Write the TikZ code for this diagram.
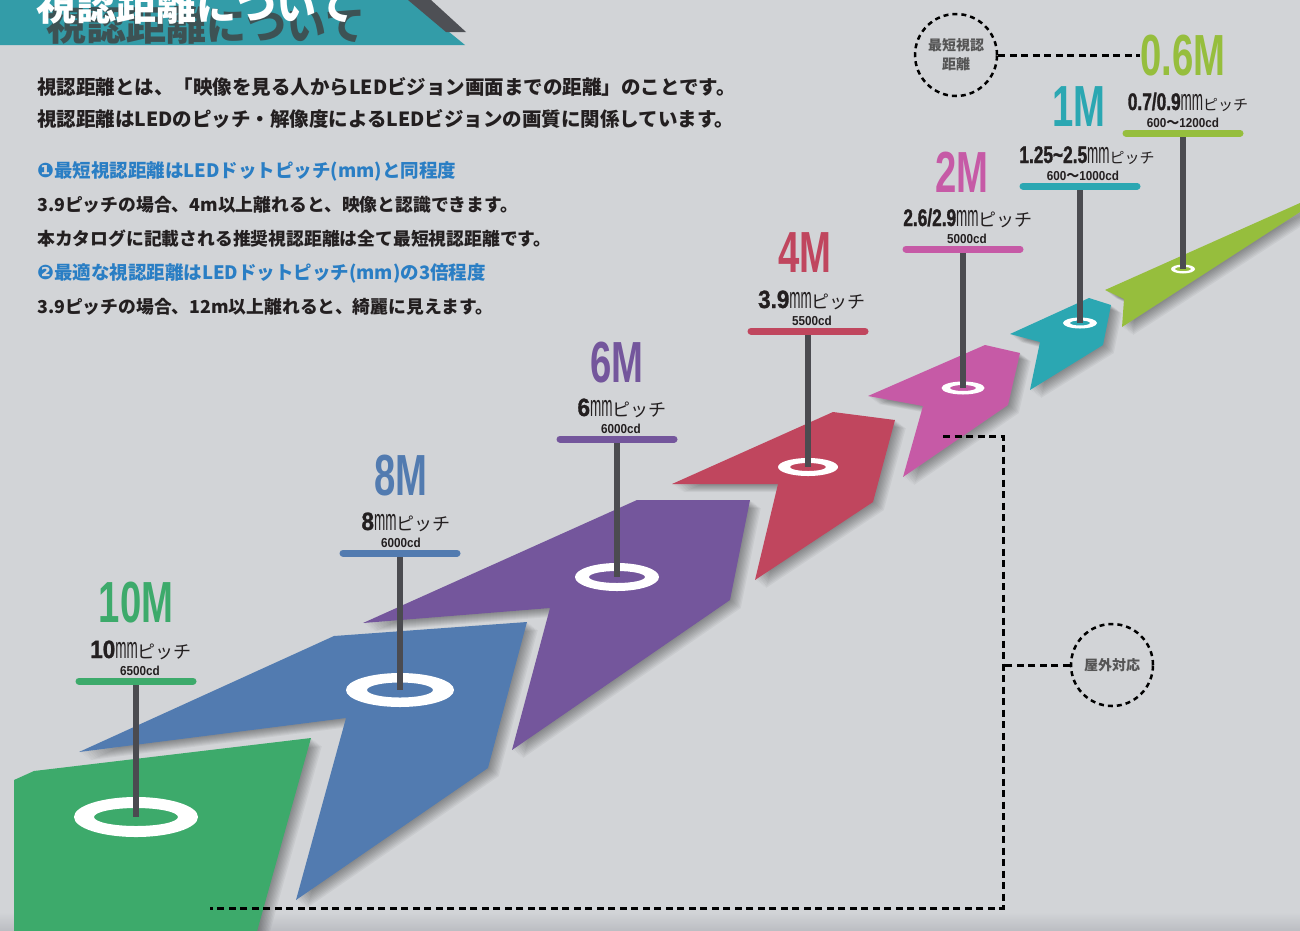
\documentclass[tikz,border=0pt]{standalone}
\usepackage{fontspec}
\setmainfont{Noto Sans CJK JP}
\newfontfamily\numf{Liberation Sans}[FakeStretch=0.9]
\newfontfamily\numb{Liberation Sans Bold}[FakeStretch=0.9, FakeBold=1.2]
\newfontfamily\numc{Liberation Sans Bold}[FakeStretch=0.72, FakeBold=1.2]
\newfontfamily\bigf{Liberation Sans}[FakeStretch=0.66]
\newfontfamily\mmf{Liberation Sans}[FakeStretch=0.45]
\newfontfamily\djv{DejaVu Sans}
\usetikzlibrary{calc}
\definecolor{bg}{HTML}{D2D4D7}
\definecolor{bgdark}{HTML}{BCBEC3}
\definecolor{bannerc}{HTML}{339CA8}
\definecolor{bannerdark}{HTML}{4E5055}
\definecolor{cgreen}{HTML}{3DAA6B}
\definecolor{cblue}{HTML}{527BB0}
\definecolor{cpurple}{HTML}{74569C}
\definecolor{cred}{HTML}{C0465E}
\definecolor{cpink}{HTML}{C65AA6}
\definecolor{cteal}{HTML}{2BA7B2}
\definecolor{clime}{HTML}{96BE3D}
\definecolor{polec}{HTML}{4B4B50}
\definecolor{txt}{HTML}{231F20}
\definecolor{btxt}{HTML}{2A7EC4}
\definecolor{ctxt}{HTML}{555555}
\newcommand\pn[2]{{\numb\fontsize{25}{25}\selectfont #1}{\mmf\fontsize{30}{30}\selectfont mm}{\fontsize{#2}{#2}\selectfont ピッチ}}
\newcommand\pnc[2]{{\numc\fontsize{24}{24}\selectfont #1}{\mmf\fontsize{30}{30}\selectfont mm}{\fontsize{#2}{#2}\selectfont ピッチ}}
\newcommand\cdn[1]{{\numf #1}}
\tikzset{
  bigM/.style={font=\bigf\bfseries\fontsize{58}{58}\selectfont, inner sep=0pt, anchor=base},
  pitchtxt/.style={inner sep=0pt, anchor=base, text=txt},
  cdtxt/.style={font=\bfseries\fontsize{13}{13}\selectfont, inner sep=0pt, anchor=base, text=txt},
  barline/.style={line width=7pt, line cap=round},
  pole/.style={line width=6pt, draw=polec},
  dline/.style={draw=black, line width=3pt, dash pattern=on 7pt off 4.5pt},
  dcirc/.style={circle, draw=black, line width=2.5pt, dash pattern=on 5pt off 4pt, minimum size=82pt, inner sep=0pt, align=center, text=ctxt, font=\bfseries\fontsize{14}{19}\selectfont},
  ringc/.style={fill=white, even odd rule},
  para/.style={anchor=base west, inner sep=0pt, text=txt, font=\bfseries\fontsize{19.5}{20}\selectfont},
  parab/.style={anchor=base west, inner sep=0pt, text=btxt, font=\bfseries\fontsize{18.5}{20}\selectfont},
  paras/.style={anchor=base west, inner sep=0pt, text=txt, font=\bfseries\fontsize{17.8}{20}\selectfont},
  sgreen/.style={insert path={(14,780) -- (34,771) -- (311,738) -- (256,935) -- (14,935) -- cycle}},
  sblue/.style={insert path={(79,752) -- (334,636) -- (527,622) -- (488,768) -- (296,900) -- (346,718) -- cycle}},
  spurple/.style={insert path={(363,623) -- (637,500) -- (750,500) -- (730,600) -- (512,750) -- (550,608) -- cycle}},
  sred/.style={insert path={(672,484) -- (833,412) -- (895,420) -- (873,502) -- (755,580) -- (778,484) -- cycle}},
  spink/.style={insert path={(868,396) -- (985,345) -- (1020,353) -- (1008,405) -- (903,477) -- (923,406) -- cycle}},
  steal/.style={insert path={(1010,334) -- (1089,298) -- (1111,305) -- (1103,345) -- (1030,390) -- (1040,342) -- cycle}},
  slime/.style={insert path={(1105,290) -- (1300,203) -- (1300,212) -- (1122,327) -- (1124,299) -- cycle}},
}
\begin{document}
\begin{tikzpicture}[x=1pt,y=-1pt]
\path[use as bounding box] (0,0) rectangle (1300,930);
\clip (0,0) rectangle (1300,930);
\fill[bg] (0,0) rectangle (1300,930);
\shade[top color=bg, bottom color=bgdark] (0,912) rectangle (1300,930);

% banner
\fill[bannerc] (0,0) -- (410,0) -- (465,45) -- (0,45) -- cycle;
\fill[bannerdark] (408,0) -- (431,0) -- (466,32) -- (446,32) -- cycle;
\node[inner sep=0pt, text=black!75, opacity=0.8, font=\bfseries\fontsize{40}{40}\selectfont] (tshadow) at (206,25) {視認距離について};
\node[inner sep=0pt, text=white, font=\bfseries\fontsize{40}{40}\selectfont] (title) at (196,5) {視認距離について};

% paragraph
\node[para] (l1) at (37,94) {視認距離とは、「映像を見る人からLEDビジョン画面までの距離」のことです。};
\node[para] (l2) at (37,126) {視認距離はLEDのピッチ・解像度によるLEDビジョンの画質に関係しています。};
\node[parab] (b1) at (37,177) {{\djv\fontsize{20}{20}\selectfont ❶}最短視認距離はLEDドットピッチ(mm)と同程度};
\node[paras] (l3) at (37,211) {3.9ピッチの場合、4m以上離れると、映像と認識できます。};
\node[paras] (l4) at (37,245) {本カタログに記載される推奨視認距離は全て最短視認距離です。};
\node[parab] (b2) at (37,279) {{\djv\fontsize{20}{20}\selectfont ❷}最適な視認距離はLEDドットピッチ(mm)の3倍程度};
\node[paras] (l5) at (37,313) {3.9ピッチの場合、12m以上離れると、綺麗に見えます。};

% shadows of the steps
\foreach \s in {slime,steal,spink,sred,spurple,sblue,sgreen}{
  \foreach \k in {1,...,9}{
    \fill[black, opacity=0.045, shift={(1.2*\k,0.9*\k)}, \s];
  }
}
% steps
\fill[clime, slime];
\fill[cteal, steal];
\fill[cpink, spink];
\fill[cred, sred];
\fill[cpurple, spurple];
\fill[cblue, sblue];
\fill[cgreen, sgreen];

% ring centres and bar centres
\coordinate (r10) at (136,817);  \coordinate (b10) at (136,681);
\coordinate (r8) at (400,690);   \coordinate (b8) at (400,553);
\coordinate (r6) at (617,577);   \coordinate (b6) at (617,439);
\coordinate (r4) at (808,467);   \coordinate (b4) at (808,331);
\coordinate (r2) at (963,388);   \coordinate (b2c) at (963,249);
\coordinate (r1) at (1080,323);  \coordinate (b1c) at (1080,186);
\coordinate (r06) at (1183,269); \coordinate (b06) at (1183,133);

% rings
\fill[ringc] (r10) ellipse [x radius=62, y radius=20] (r10) ellipse [x radius=42, y radius=9];
\fill[ringc] (r8) ellipse [x radius=54, y radius=17] (r8) ellipse [x radius=33, y radius=7.5];
\fill[ringc] (r6) ellipse [x radius=42, y radius=14] (r6) ellipse [x radius=28, y radius=6];
\fill[ringc] (r4) ellipse [x radius=30, y radius=9] (r4) ellipse [x radius=18, y radius=4];
\fill[ringc] (r2) ellipse [x radius=21.5, y radius=6.5] (r2) ellipse [x radius=13, y radius=3];
\fill[ringc] (r1) ellipse [x radius=17, y radius=5.5] (r1) ellipse [x radius=10, y radius=2.5];
\fill[ringc] (r06) ellipse [x radius=12, y radius=4.5] (r06) ellipse [x radius=8, y radius=2.2];

% poles
\foreach \b/\r in {b10/r10,b8/r8,b6/r6,b4/r4,b2c/r2,b1c/r1,b06/r06}{
  \draw[pole] (\b) -- (\r);
}
% bars
\foreach \b/\c in {b10/cgreen,b8/cblue,b6/cpurple,b4/cred,b2c/cpink,b1c/cteal,b06/clime}{
  \draw[barline, draw=\c] ($(\b)+(-57,0)$) -- ($(\b)+(57,0)$);
}

% labels
\node[bigM, text=cgreen] (m10) at (136,622) {10M};
\node[pitchtxt] (p10) at (141,658) {\pn{10}{18}};
\node[cdtxt] (c10) at (140,675) {\cdn{6500cd}};

\node[bigM, text=cblue] (m8) at (401,495) {8M};
\node[pitchtxt] (p8) at (406,530) {\pn{8}{18}};
\node[cdtxt] (c8) at (401,547) {\cdn{6000cd}};

\node[bigM, text=cpurple] (m6) at (617,382) {6M};
\node[pitchtxt] (p6) at (622,416) {\pn{6}{18}};
\node[cdtxt] (c6) at (621,433) {\cdn{6000cd}};

\node[bigM, text=cred] (m4) at (805,272) {4M};
\node[pitchtxt] (p4) at (812,308) {\pn{3.9}{18}};
\node[cdtxt] (c4) at (812,325) {\cdn{5500cd}};

\node[bigM, text=cpink] (m2) at (962,192) {2M};
\node[pitchtxt] (p2) at (968,226) {\pnc{2.6/2.9}{18}};
\node[cdtxt] (c2) at (967,243) {\cdn{5000cd}};

\node[bigM, text=cteal] (m1) at (1079,126) {1M};
\node[pitchtxt] (p1) at (1087,163) {\pnc{1.25\textasciitilde2.5}{15}};
\node[cdtxt] (c1) at (1083,180) {\cdn{600}〜\cdn{1000cd}};

\node[bigM, text=clime] (m06) at (1183,75) {0.6M};
\node[pitchtxt] (p06) at (1188,110) {\pnc{0.7/0.9}{15}};
\node[cdtxt] (c06) at (1183,127) {\cdn{600}〜\cdn{1200cd}};

% dotted callouts
\node[dcirc] (short) at (956,55) {最短視認\\距離};
\draw[dline] (short.east) -- (m06.west |- short.east);

\node[dcirc] (outdoor) at (1112,665) {屋外対応};
\coordinate (bt) at (943,436);
\coordinate (bc) at (1003,436);
\coordinate (bb) at (1003,908);
\coordinate (bl) at (210,908);
\draw[dline] (bt) -- (bc) -- (bb) -- (bl);
\draw[dline] (outdoor.west) -- (outdoor.west -| bc);
\end{tikzpicture}
\end{document}
